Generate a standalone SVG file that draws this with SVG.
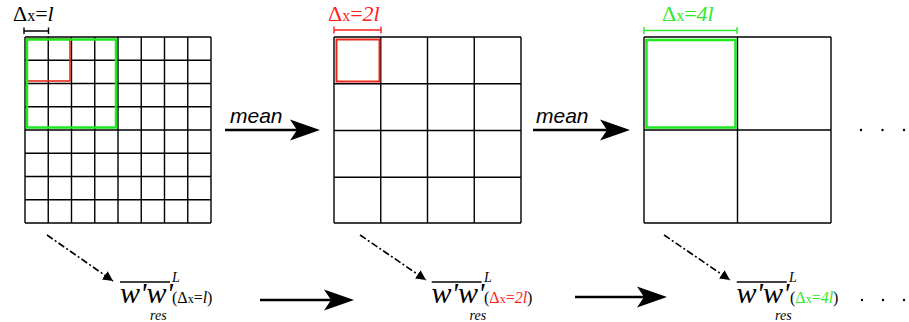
<svg xmlns="http://www.w3.org/2000/svg" width="909" height="322" viewBox="0 0 909 322">
<style>
.grid{stroke:#000;stroke-width:1.4;fill:none}
.serif{font-family:'Liberation Serif','Times New Roman',serif}
.it{font-style:italic}
.sans{font-family:'Liberation Sans',Arial,sans-serif}
.dd{stroke:#000;stroke-width:1.6;fill:none;stroke-dasharray:7 2.5 2 2.5}
.solid{stroke:#000;stroke-width:2.5;fill:none}
.dot{fill:#000}
</style>
<defs>
<marker id="tri" viewBox="0 0 10 10" refX="10" refY="5" markerWidth="10" markerHeight="10" markerUnits="userSpaceOnUse" orient="auto">
<path d="M0,0 L10,5 L0,10 Z" fill="#000"/>
</marker>
</defs>
<rect width="909" height="322" fill="#fff"/>

<g id="grid1">
<path class="grid" d="M25,37H211M25,60.25H211M25,83.5H211M25,106.75H211M25,130H211M25,153.25H211M25,176.5H211M25,199.75H211M25,223H211
M25,37V223M48.25,37V223M71.5,37V223M94.75,37V223M118,37V223M141.25,37V223M164.5,37V223M187.75,37V223M211,37V223"/>
<rect x="27" y="39" width="43" height="42" fill="none" stroke="#e8281c" stroke-width="1.6"/>
<rect x="27" y="39.5" width="89" height="88" fill="none" stroke="#1ee81e" stroke-width="2.5"/>
</g>
<g id="label1">
<path d="M24,31H48.5M24,27.5V34M48.5,27.5V34" stroke="#000" stroke-width="1.4" fill="none"/>
<text class="serif" x="13" y="21" font-size="22">Δ<tspan font-size="16">x</tspan>=<tspan class="it">l</tspan></text>
</g>

<g id="grid2">
<path class="grid" d="M334,37H521M334,83.75H521M334,130.5H521M334,177.25H521M334,223H521
M334,37V223M380.75,37V223M427.5,37V223M474.25,37V223M521,37V223"/>
<rect x="336.5" y="39.5" width="43" height="42" fill="none" stroke="#e8281c" stroke-width="2"/>
</g>
<g id="label2" fill="#ff2020">
<path d="M334,30H381M334,26.5V33.5M381,26.5V33.5" stroke="#ff2020" stroke-width="1.4" fill="none"/>
<text class="serif" x="328" y="21" font-size="22">Δ<tspan font-size="16">x</tspan>=<tspan class="it">2l</tspan></text>
</g>

<g id="grid3">
<path class="grid" d="M644,37H831M644,130H831M644,223H831M644,37V223M737.5,37V223M831,37V223"/>
<rect x="646.5" y="40" width="89" height="87.5" fill="none" stroke="#1ee81e" stroke-width="2.5"/>
</g>
<g id="label3" fill="#2ee82e">
<path d="M644,30.5H737M644,27V34M737,27V34" stroke="#2ee82e" stroke-width="1.4" fill="none"/>
<text class="serif" x="662" y="21" font-size="22">Δ<tspan font-size="16">x</tspan>=<tspan class="it">4l</tspan></text>
</g>

<g id="dots-top">
<circle class="dot" cx="861" cy="130" r="1.2"/>
<circle class="dot" cx="882.5" cy="130" r="1.2"/>
<circle class="dot" cx="904" cy="130" r="1.2"/>
</g>

<g id="formula1" class="serif">
<path d="M120,282H170" stroke="#000" stroke-width="1.3"/>
<text class="it" x="120" y="303" font-size="30">w'w'</text>
<text class="it" x="172" y="282" font-size="14">L</text>
<text x="172" y="303" font-size="16">(Δ<tspan font-size="12">x</tspan>=<tspan class="it">l</tspan>)</text>
<text class="it" x="150" y="320" font-size="14">res</text>
</g>
<g id="formula2" class="serif">
<path d="M431.7,282H481.7" stroke="#000" stroke-width="1.3"/>
<text class="it" x="431.5" y="303" font-size="30">w'w'</text>
<text class="it" x="484" y="282" font-size="14">L</text>
<text x="484" y="303" font-size="16">(<tspan fill="#ff2020">Δ<tspan font-size="12">x</tspan>=<tspan class="it">2l</tspan></tspan>)</text>
<text class="it" x="469.5" y="320" font-size="14">res</text>
</g>
<g id="formula3" class="serif">
<path d="M736.7,282H786.7" stroke="#000" stroke-width="1.3"/>
<text class="it" x="736.5" y="303" font-size="30">w'w'</text>
<text class="it" x="789" y="282" font-size="14">L</text>
<text x="790" y="303" font-size="16">(<tspan fill="#2ee82e">Δ<tspan font-size="12">x</tspan>=<tspan class="it">4l</tspan></tspan>)</text>
<text class="it" x="775" y="320" font-size="14">res</text>
</g>
<g id="dots-bottom">
<circle class="dot" cx="862" cy="300" r="1.2"/>
<circle class="dot" cx="883" cy="300" r="1.2"/>
<circle class="dot" cx="904" cy="300" r="1.2"/>
</g>

<g id="connectors">
<text class="sans it" x="230" y="123" font-size="21">mean</text>
<path class="solid" d="M225,130H298"/>
<path d="M320,130L290,119.5L297,130L290,140.5Z" fill="#000"/>
<text class="sans it" x="536" y="123" font-size="21">mean</text>
<path class="solid" d="M533,130H608"/>
<path d="M630,130L600,119.5L607,130L600,140.5Z" fill="#000"/>

<path class="solid" d="M260,300H332"/>
<path d="M354,300L324,289.5L331,300L324,310.5Z" fill="#000"/>
<path class="solid" d="M575,297H645"/>
<path d="M667,297L637,286.5L644,297L637,307.5Z" fill="#000"/>

<path class="dd" d="M47,235L113,281" marker-end="url(#tri)"/>
<path class="dd" d="M360,235L426,280" marker-end="url(#tri)"/>
<path class="dd" d="M664,235L730,280" marker-end="url(#tri)"/>
</g>
</svg>
